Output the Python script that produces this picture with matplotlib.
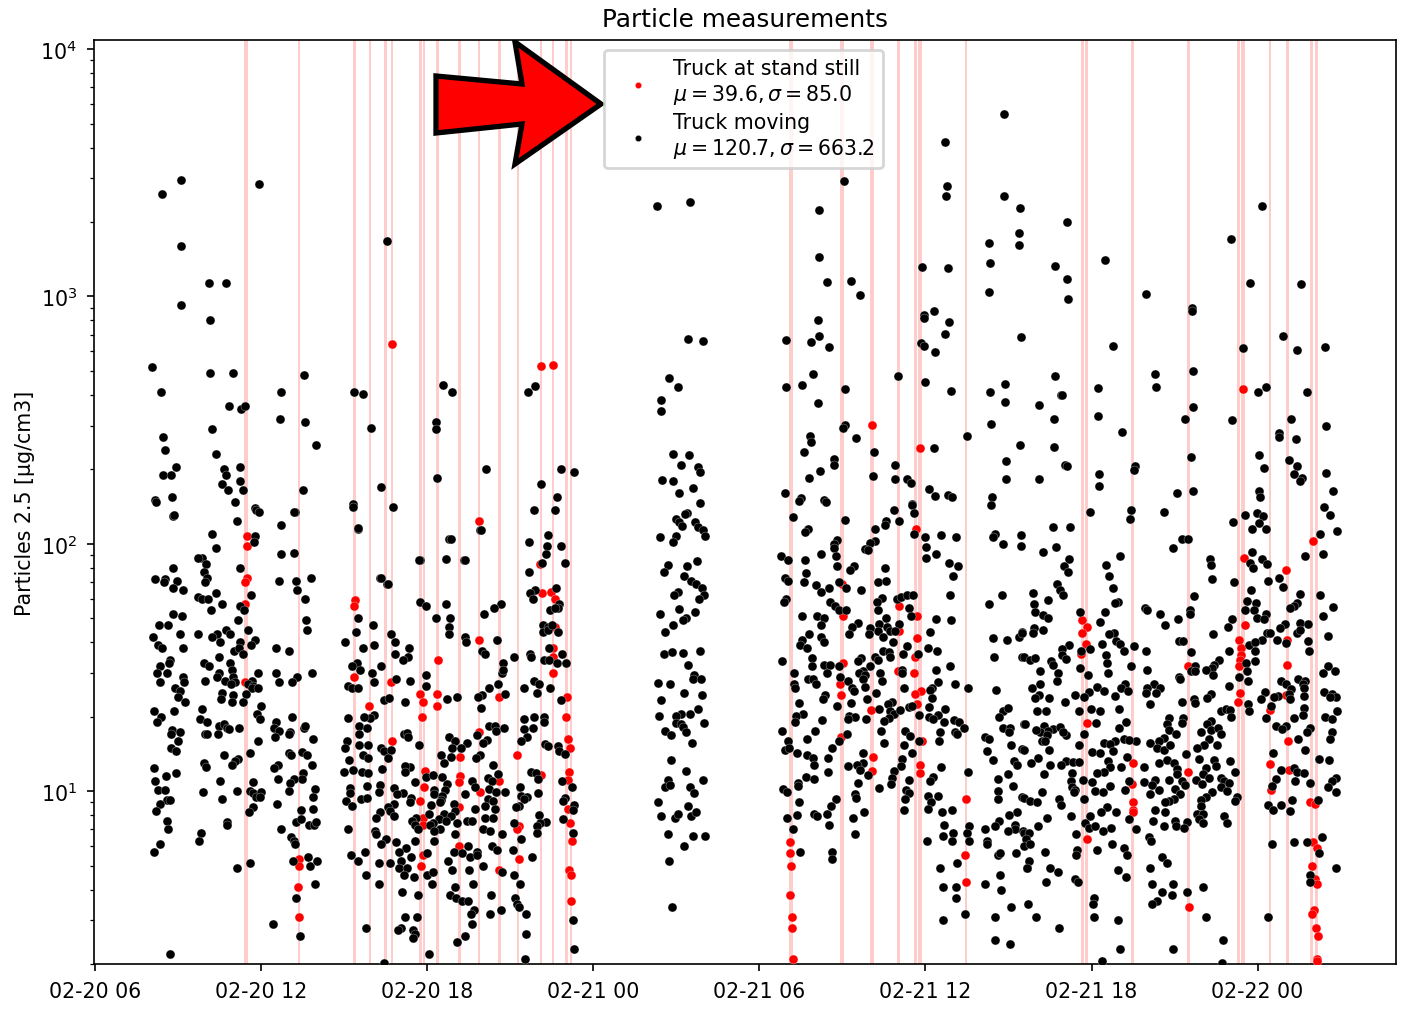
import numpy as np
import datetime as dt
import matplotlib
matplotlib.use('Agg')
import matplotlib.pyplot as plt
import matplotlib.dates as mdates
from matplotlib.patches import Polygon

plt.rcParams['font.size'] = 7.4
plt.rcParams['axes.linewidth'] = 0.6
plt.rcParams['xtick.major.width'] = 0.6
plt.rcParams['ytick.major.width'] = 0.6
plt.rcParams['ytick.minor.width'] = 0.45
plt.rcParams['xtick.major.size'] = 2.6
plt.rcParams['ytick.major.size'] = 2.6
plt.rcParams['ytick.minor.size'] = 1.5

# all readings: (hours after 02-20 06:00, particles)
still_a = [(5.48,108),(5.49,98),(5.5,73),(5.4,70),(5.41,57),(5.41,27.5),(7.36,5.3),(7.36,5),(7.34,4.1),(7.37,3.1)]
still_b = [(13.86,124),(16.09,83),(16.13,63),(16.48,64),(16.61,60),(9.38,59),(9.34,56),(16.6,46),(13.87,41),(16.55,38),
           (16.55,35),(12.38,34),(16.56,30),(9.37,29),(10.7,27.5),(14.59,24),(11.75,24.7),(12.34,24.7),(11.83,23),(12.36,22),
           (17.04,24),(9.91,22),(17.0,20),(11.8,20),(13.86,17.3),(10.72,16),(17.08,16.2),(17.14,15),(13.2,13.7),(15.24,14),
           (11.91,12.1),(17.13,12),(16.12,11.6),(14.61,11),(13.2,11.5),(13.15,10.9),(11.89,10.4),(17.08,11.1),(13.9,9.9),(11.75,9.1),
           (13.16,8.6),(17.07,8.5),(11.85,7.8),(11.85,7.3),(17.16,7.4),(15.3,7.2),(15.26,7),(17.22,6.3),(13.13,6),(11.84,5.5),
           (15.3,5.3),(11.78,5),(14.61,4.8),(17.13,4.8),(17.18,4.6),(17.2,3.6),(16.12,525),(16.55,530),(10.73,640)]
still_c = [(25.1,6.2),(25.09,5.6),(25.15,5),(25.12,3.8),(25.17,3.1),(25.18,2.8),(25.2,2.1),(26.98,68.5),(27.03,51),(27.02,33),
           (26.93,27),(26.96,24.4),(26.96,16.6),(28.03,21.3),(28.1,13.8),(28.06,12.1),(29.67,115),(29.05,56),(29.7,51),(29.03,44.5),
           (29.71,41.5),(29.61,35),(29.0,30.5),(29.59,30),(29.84,25.3),(29.63,24.7),(29.68,22.5),(29.88,16),(29.81,12.7),(29.81,11.8),
           (31.47,9.3),(31.44,5.5),(31.45,4.3),(28.06,301),(29.79,243)]
still_d = [(44.0,103),(41.51,88),(43.03,78),(35.66,49),(41.53,47),(35.84,46),(35.65,43.5),(41.32,41),(43.05,41),(35.79,39.5),
           (41.41,37.8),(41.41,35.5),(35.62,36),(41.38,34),(41.32,32),(43.08,32.5),(39.48,32),(43.03,24.4),(41.35,24.9),(41.29,23),
           (42.43,21.2),(35.83,18.8),(43.09,16),(37.48,13),(42.45,12.9),(43.13,12.2),(39.5,11.9),(37.45,10.7),(42.47,10.1),(43.91,9),
           (44.08,8.9),(37.5,9),(37.5,8.4),(37.5,8.2),(35.82,6.4),(44.01,6.2),(44.13,5.9),(43.97,5),(44.08,4.4),(44.15,4.2),
           (39.51,3.4),(44.04,3.3),(43.95,3.2),(44.1,2.8),(44.17,2.6),(44.14,2.1),(44.14,2.05),(41.48,424)]

moving_a = [(2.06,520),(2.39,410),(2.46,270),(2.53,240),(2.46,190),(2.17,150),(2.78,155),(2.75,190),(2.93,205),(2.82,130),
            (2.42,2600),(3.11,2950),(3.11,1600),(3.11,920),(4.12,1130),(4.73,1130),(4.16,800),(4.16,490),(4.99,490),(4.23,290),
            (4.37,230),(4.66,200),(4.73,190),(4.84,360),(5.28,350),(5.42,360),(5.24,205),(5.24,180),(4.59,175),(5.35,165),
            (4.81,165),(5.93,2850),(6.72,410),(6.69,320),(7.55,480),(7.59,310),(7.52,165),(7.23,135),(7.99,250),(5.78,140),
            (2.2,148),(2.84,131),(5.05,148),(5.8,137),(5.93,134),(5.12,124),(7.19,135),(6.71,119),(4.22,110),(4.36,96),
            (5.78,108),(5.75,102),(6.72,91),(7.17,92),(3.86,88),(3.71,88),(4.0,83),(2.82,80),(5.22,80),(3.92,77),
            (4.06,73),(3.98,70),(2.18,72),(2.52,72),(2.49,70),(2.95,71),(2.8,66),(3.16,65),(6.66,71),(7.25,71),
            (7.8,73),(7.28,65),(4.37,63),(3.73,61),(3.86,60),(4.07,60),(5.63,62),(7.59,60),(4.59,57),(5.24,56),
            (5.39,54),(4.18,54),(2.82,52),(3.14,51),(7.63,49),(5.18,49),(2.3,47),(2.65,47),(5.52,45),(4.73,45),
            (4.88,43),(4.4,43),(7.64,45),(2.08,42),(3.07,43),(3.72,43),(4.22,42),(5.77,41),(4.52,40),(5.24,40),
            (5.65,39),(2.29,39),(2.41,38),(3.17,38),(5.02,37),(5.2,38),(6.52,38),(7.01,37),(5.36,36),(4.49,35),
            (2.69,34),(2.66,33),(4.86,33),(3.92,33),(4.11,32),(2.35,32),(4.93,31),(2.23,30),(2.61,30),(4.48,30),
            (5.9,30),(6.53,30),(7.82,30),(7.29,29),(3.19,29),(4.42,29),(4.98,29),(4.7,28),(3.98,28),(3.22,27.5),
            (2.33,27.5),(5.06,27.5),(4.92,27),(6.65,27.5),(7.11,27.5),(5.66,28),(5.54,27),(5.72,26.5),(5.66,26),(5.9,26),
            (2.89,26),(3.05,25.5),(4.6,25),(5.45,24.7),(2.98,24),(4.98,24.5),(4.54,23.5),(3.23,23),(4.96,23),(5.35,23),
            (2.86,21),(3.86,21.5),(2.11,21),(5.98,22),(5.84,20.5),(7.13,20),(2.37,20),(2.25,19),(3.8,19.5),(4.04,19),
            (5.95,19.5),(6.55,19),(4.46,18.3),(4.64,18.7),(4.76,18),(4.83,17.8),(5.2,18),(7.53,18),(7.57,18.3),(6.45,18),
            (6.63,17.5),(2.77,17.7),(3.05,17.3),(2.75,17),(3.98,17),(4.06,17),(4.45,17),(7.05,17.3),(7.0,17),(6.5,16.5),
            (7.87,16.3),(2.99,16),(5.87,16),(2.75,15),(2.94,14.5),(5.61,14.3),(7.02,14.3),(7.08,14),(7.47,14.4),(7.65,14),
            (4.67,14),(5.16,13.5),(5.04,13.2),(4.95,12.7),(3.95,13),(4.02,12.5),(7.84,12.8),(6.6,12.8),(6.47,12.4),(2.12,12.4),
            (2.93,11.8),(2.57,11.5),(7.5,11.8),(7.47,11.2),(7.19,11.2),(7.05,10.8),(2.16,11),(6.59,11.2),(4.52,11),(5.7,10.9),
            (2.29,10.1),(2.54,10.1),(5.14,10),(7.0,10),(7.96,10.2),(3.89,9.9),(5.6,10),(5.72,9.8),(5.8,9.5),(5.99,9.9),
            (5.96,9.5),(4.57,9.3),(7.89,9.5),(2.61,9.2),(2.71,9.2),(2.33,8.9),(6.57,8.9),(2.19,8.3),(5.72,8.6),(5.55,8.2),
            (7.88,8.5),(7.43,8.4),(2.58,7.6),(4.76,7.5),(4.76,7.3),(7.27,7.5),(7.43,7.7),(7.73,7.3),(7.92,7.3),(7.99,7.5),
            (2.63,7),(6.7,7),(3.83,6.8),(3.76,6.3),(7.06,6.5),(7.19,6.3),(7.24,6.1),(2.34,6.1),(2.14,5.7),(7.14,5.2),
            (7.69,5.4),(7.76,5),(8.02,5.2),(5.58,5.1),(5.11,4.9),(7.93,4.2),(7.25,3.7),(6.42,2.9),(7.4,2.6),(2.71,2.2)]

moving_b = [(9.36,410),(9.69,405),(9.97,295),(9.32,145),(9.5,115),(10.34,170),(10.55,1680),(10.3,73),(10.55,69),(12.58,440),
            (12.9,410),(12.32,310),(12.32,290),(12.36,185),(11.75,86),(12.79,105),(13.34,86),(13.9,114),(14.13,200),(15.65,410),
            (15.9,435),(16.84,200),(17.31,195),(16.12,175),(16.7,155),(9.33,141),(10.75,141),(15.84,137),(16.62,137),(13.94,114),
            (9.5,116),(16.37,109),(12.85,105),(15.68,102),(16.32,98),(16.83,98),(16.3,91),(11.71,86),(12.67,87),(13.36,86),
            (16.16,84),(16.97,84),(15.68,77),(10.32,73),(10.57,69),(15.91,65),(15.72,63),(15.83,60),(16.65,66),(16.77,57),
            (16.72,55),(16.44,54),(16.6,55),(11.73,58),(11.95,56),(12.69,57),(14.67,57),(14.4,55),(14.06,52),(9.48,50),
            (12.33,50),(12.81,50),(12.77,46),(12.8,43),(10.03,47),(9.42,44),(16.2,47),(16.38,46),(16.2,44),(16.38,45),
            (16.5,47),(16.74,44),(10.68,43),(13.36,42),(13.4,40),(14.53,41),(10.83,40),(9.03,40),(9.69,38),(10.08,39),
            (11.33,38),(10.84,36),(11.32,35),(11.14,34),(13.97,37),(14.07,36),(16.4,38),(16.86,36),(15.73,36),(15.75,35),
            (15.13,35),(16.23,34),(16.4,34),(16.68,33),(17.0,33),(14.75,33),(9.45,33),(9.27,32),(9.56,31),(10.34,32),
            (14.69,30),(14.74,31),(9.99,30),(11.97,29.5),(10.86,28.5),(10.07,27.5),(11.36,28),(15.87,28),(16.03,27),(9.15,26.5),
            (9.27,26),(9.48,26),(11.94,26.5),(14.56,27),(14.22,26),(15.48,26),(15.95,25),(16.44,26),(14.8,24.7),(13.97,24.5),
            (13.83,24),(13.09,24),(12.71,23.5),(10.42,23.3),(10.62,23.7),(11.21,23),(16.85,23.3),(13.94,21.7),(10.07,20.3),(9.94,19.7),
            (9.73,20),(9.14,19.7),(15.86,20),(16.22,20),(16.22,19),(15.5,19.5),(9.54,18.3),(9.84,18),(14.24,18.3),(14.45,18.3),
            (14.5,17.5),(14.79,18),(15.81,18),(15.51,17.8),(11.16,17),(11.27,17.2),(11.32,16.5),(9.54,17),(13.81,16.8),(15.6,16.5),
            (15.4,16),(9.09,16),(12.78,16.5),(13.0,16),(13.43,15.7),(14.15,16.1),(14.0,15.7),(9.87,15.3),(9.53,15.3),(9.03,14.9),
            (11.69,15.3),(12.91,15),(16.24,15.5),(16.36,15.2),(16.71,15.2),(10.34,15),(10.43,14.5),(10.68,14.6),(13.22,14.9),(16.77,14.5),
            (16.96,14.1),(9.67,14),(12.51,14),(12.87,13.8),(10.6,13.6),(9.85,13.6),(9.18,13.3),(13.92,14),(13.77,13.6),(12.62,13),
            (14.39,12.8),(11.38,12.5),(11.18,12.6),(10.38,12.3),(9.01,12),(9.33,12.2),(9.63,12),(9.87,11.8),(11.18,11.9),(11.96,11.4),
            (12.21,11.6),(12.55,11.4),(15.74,11.9),(15.93,11.8),(16.0,11.2),(14.54,11.7),(14.19,11.3),(14.33,11),(13.61,11),(11.57,10.9),
            (12.73,10.7),(10.3,10.6),(9.81,10.5),(13.71,10.4),(9.2,10.3),(16.86,11),(17.24,10.4),(10.8,10.3),(12.26,10.1),(12.65,10.1),
            (15.36,10.4),(14.22,10.2),(14.48,9.9),(14.8,9.9),(9.22,9.8),(10.24,9.9),(11.12,9.8),(10.89,9.7),(12.25,9.7),(13.37,9.7),
            (16.0,9.8),(15.4,9.6),(15.62,9.5),(15.5,9.3),(14.21,9.3),(12.53,9.6),(12.5,9.2),(12.47,9),(11.43,9.4),(9.59,9.3),
            (9.84,9.4),(9.07,9.1),(11.39,9),(14.39,9.1),(16.96,9.4),(16.91,9.1),(12.14,8.8),(12.96,8.9),(9.27,8.7),(10.8,8.9),
            (10.6,8.6),(14.09,8.7),(13.73,8.5),(14.45,8.5),(15.3,8.7),(15.2,8.6),(17.31,8.8),(17.25,8.4),(10.28,8.2),(10.66,8.3),
            (10.79,7.9),(13.01,8.3),(12.59,8.1),(12.07,8.1),(16.04,8),(12.87,7.9),(10.14,7.8),(14.09,7.8),(14.36,7.8),(11.6,7.8),
            (11.46,7.6),(11.56,7.3),(12.43,7.7),(12.67,7.6),(13.43,7.6),(13.61,7.6),(12.22,7.4),(12.09,7.3),(13.09,7.4),(16.3,7.5),
            (16.08,7.4),(15.96,7.2),(16.92,7.7),(15.15,7.4),(9.12,7),(11.67,7),(12.47,7),(12.26,6.9),(14.03,7),(14.27,6.9),
            (10.12,6.9),(10.14,6.7),(14.71,6.7),(15.96,6.8),(17.26,6.8),(13.01,6.7),(10.51,6.4),(10.33,6.1),(12.26,6.3),(11.54,6.3),
            (15.37,6.4),(10.87,6.2),(13.47,6),(14.33,6),(14.51,5.8),(11.22,5.9),(10.98,5.7),(9.75,5.7),(9.24,5.5),(9.49,5.2),
            (15.1,5.8),(12.95,5.7),(13.25,5.6),(13.79,5.7),(13.55,5.4),(13.81,5.5),(11.98,5.6),(11.42,5.4),(11.06,5.2),(15.79,5.4),
            (12.75,5.2),(10.27,5.1),(10.66,5.1),(10.98,4.9),(11.28,4.9),(14.02,5),(12.89,4.8),(13.51,4.8),(14.71,4.7),(15.15,4.6),
            (9.78,4.6),(11.16,4.6),(11.51,4.5),(12.0,4.6),(12.22,4.7),(15.36,4.2),(10.25,4.2),(12.16,4.2),(13.66,4.2),(13.02,4.1),
            (11.08,3.9),(11.68,3.8),(12.83,3.8),(13.04,3.7),(13.27,3.6),(13.49,3.6),(14.3,3.8),(15.18,3.7),(15.24,3.5),(15.33,3.4),
            (13.69,3.3),(13.59,3.2),(13.61,2.9),(14.66,3.3),(14.26,3.2),(15.57,3.2),(11.19,3.1),(11.63,3.1),(17.28,3),(9.8,2.8),
            (11.06,2.8),(10.96,2.75),(11.5,2.75),(11.56,2.65),(11.47,2.55),(15.56,2.65),(13.36,2.6),(13.08,2.45),(12.08,2.2),(17.3,2.3),
            (15.54,2.1),(10.43,2.02)]

moving_night = [(20.31,2320),(21.5,2420),(20.46,380),(20.46,345),(20.74,470),(21.07,430),(21.43,670),(21.97,660),(20.87,230),(21.47,229),
                (21.15,209),(21.77,205),(21.84,196),(20.48,181),(20.87,180),(21.11,161),(21.6,168),(21.84,146),(21.39,133),(21.3,132),
                (20.99,126),(21.09,122),(21.19,118),(21.66,123),(21.77,117),(21.95,114),(22.05,108),(20.4,107),(20.97,108),(20.89,102),
                (20.71,82),(20.54,77),(21.39,81),(21.75,85),(21.29,74),(21.53,71),(21.72,69),(21.92,66),(21.05,64),(20.93,62),
                (21.99,62),(21.83,60),(21.09,54.5),(20.4,52),(21.69,53),(21.36,50),(21.24,49),(20.88,47),(20.58,44),(20.54,36),
                (20.84,36.6),(21.23,36.3),(21.86,36.8),(21.43,32.4),(21.63,29.4),(21.6,28.4),(21.89,28.4),(20.34,27.4),(20.78,27),(21.29,25),
                (21.92,24.4),(20.43,23.3),(21.77,21.4),(21.48,20.6),(21.15,20.6),(21.0,20.2),(20.36,20.1),(20.97,18.8),(21.15,18.7),(21.23,18.1),
                (21.36,17.4),(22.01,18.8),(20.58,17.5),(20.81,16.8),(21.57,15.7),(20.8,13.3),(21.36,12.1),(20.7,11.1),(21.95,11.1),(20.6,10.4),
                (20.78,10.6),(21.51,10.4),(21.65,9.8),(20.33,9),(21.42,8.7),(20.45,7.9),(20.94,7.8),(21.05,8.1),(21.54,7.9),(21.71,8.2),
                (20.68,6.7),(21.59,6.6),(22.03,6.6),(21.27,6),(20.75,5.2),(20.83,3.4)]

moving_c = [(32.85,5470),(30.72,4200),(27.06,2920),(26.17,2230),(30.79,2800),(30.75,2540),(32.85,2550),(33.41,2270),(33.38,1800),(32.3,1650),
            (33.39,1620),(26.14,1440),(32.32,1370),(29.88,1320),(30.8,1306),(34.69,1330),(26.43,1146),(27.3,1150),(27.65,1018),(32.29,1045),
            (30.32,875),(29.93,843),(29.96,818),(30.84,787),(26.1,805),(26.16,693),(24.96,668),(25.86,652),(26.52,622),(30.71,706),
            (29.85,646),(29.94,628),(30.34,597),(33.45,687),(25.93,485),(28.99,478),(34.67,475),(29.98,452),(32.86,441),(24.96,432),
            (25.55,440),(27.08,424),(30.93,416),(32.34,411),(34.88,401),(26.12,372),(32.88,374),(34.1,365),(34.64,321),(32.37,306),
            (27.1,302),(27.03,294),(25.84,273),(25.88,259),(27.5,267),(31.5,272),(33.41,252),(34.65,247),(30.3,243),(25.61,235),
            (28.15,235),(26.71,220),(26.7,209),(32.9,217),(28.91,208),(35.03,208),(26.2,197),(25.81,184),(28.12,188),(28.91,183),
            (29.33,183),(29.46,176),(32.92,183),(34.11,183),(30.12,166),(30.35,156),(30.8,158),(30.96,154),(32.4,154),(24.92,160),
            (25.51,153),(25.44,149),(26.34,151),(26.4,147),(29.53,145),
            (32.38,143),(29.52,143),(29.58,133),(28.87,137),(25.2,128),(27.11,125),(29.06,124),(28.59,124),(28.55,119),(28.18,115),
            (25.77,115),(25.65,112),(29.57,110),(29.99,107),(30.03,97),(30.56,109),(31.09,107),(32.52,110),(32.45,107),(33.44,109),
            (32.81,100),(33.46,98),(26.82,104),(26.68,100),(26.71,96),(28.18,103),(28.0,101),(27.82,95),(27.94,94),(26.22,91),
            (26.75,89),(24.79,89),(25.05,86),(25.63,86),(30.02,88),(30.38,91),(30.86,84),(31.16,81),(26.79,81),(27.4,81),
            (27.28,78),(28.53,80),(25.67,76),(31.0,74),(24.93,73),(25.03,71),(25.62,70),(26.86,70),(27.12,66.5),(28.27,70),
            (28.57,71),(26.04,68),(26.22,64),(26.53,66.5),(27.68,65),(30.87,62),(32.76,62),(24.96,60),(24.88,58),(32.29,57),
            (26.56,58),(26.74,56),(26.88,54),(27.14,54),(28.43,60.5),(28.26,58),(28.3,54),(28.97,60),(29.12,61),(29.33,62),
            (29.55,62),(29.39,55),(25.53,51),(26.08,51),(26.32,50),(26.23,47),(29.49,51),(30.39,49.5),(30.92,49),(27.55,48),
            (27.34,46),(27.22,43),(28.58,50),(28.33,47.5),(28.27,44.5),(28.0,45.5),(27.97,43),(28.6,46),(28.73,44.5),(29.05,47.5),
            (28.91,44.5),(28.46,42),(30.15,44),(33.49,44),(33.37,42),(32.94,41),(32.43,41.5),(25.79,43),(25.53,41),(25.47,39),
            (25.71,38),(26.23,42),(26.35,40),(28.81,40),(29.34,38.5),(29.2,36),(28.45,37),(28.67,36.5),(28.73,35),(28.18,35),
            (28.3,34),(30.1,38),(30.41,37),(29.74,36),(32.46,35),(33.49,35),(24.81,33.5),(25.9,34.5),(25.9,32),(26.35,32.5),
            (26.56,32.5),(26.86,32),(27.68,34.5),(27.56,33.5),(28.0,32),(30.9,32),(30.39,31),(29.15,31),(29.15,30),(27.76,30.5),
            (27.6,30),(27.82,29.5),(27.73,28.5),(25.26,30),(26.44,30),(28.37,30),(28.43,28),(26.92,29),(25.77,28.5),(25.93,28.5),
            (25.26,27),(25.29,26),(26.04,27),(27.2,28),(30.47,27.5),(30.23,26),(30.15,25.6),(31.05,27),(31.52,26),(32.56,25.6),
            (29.23,26),(27.34,26),(27.43,25.4),(27.82,26.3),(28.22,25),(26.38,24.4),(26.28,23.5),(25.44,22.8),(27.9,23.5),(27.32,22.8),
            (26.8,22),(30.23,23.7),(28.79,23),(28.64,22.6),(28.73,21),(28.85,20.5),(28.67,19.7),(28.33,21.4),(29.09,21.3),(29.39,21.8),
            (29.53,22),(30.14,21.8),(29.77,20.3),(32.79,21),(32.98,21.7),(32.67,20),(25.59,20.6),(25.33,20.2),(25.29,19),(30.69,21.4),
            (30.47,20.4),(30.14,20),(30.29,19.5),(30.68,19),(27.24,20.2),(27.46,20),(27.2,19.5),(27.86,19.5),(26.27,19.4),(28.49,19.2),
            (31.02,19.4),(31.2,19),(31.4,18),(33.55,18.6),(32.79,18),(33.06,18),(33.0,17.4),(24.81,17.5),(26.02,17.5),(28.39,17.5),
            (29.27,17.5),(30.51,17.3),(31.05,17.3),(31.15,17),(29.43,16.7),(27.15,17),(32.16,16.6),(32.28,16.3),(25.71,16.2),(25.04,16),
            (26.88,16),(28.51,15.7),(30.5,16),(29.75,16),(29.23,15.4),(33.1,15.3),(26.64,15),(24.91,14.7),(25.08,14.9),(32.24,14.5),
            (33.49,14.8),(25.37,14.2),(25.73,14),(25.94,13.6),(25.99,12.7),(26.47,13.6),(27.75,14.2),(29.51,14.2),(32.45,13.4),(33.2,13.2),
            (33.31,12.7),(29.17,13.5),(29.1,12.6),(27.73,13),(27.52,12.7),(27.64,12.2),(27.2,12.6),(30.57,12.5),(26.47,12),(31.55,12),
            (28.85,12.1),(27.93,11.6),(28.79,11.3),(25.69,11.4),(25.97,11.2),(30.28,11.4),(30.17,11),(32.97,11.7),(32.63,11.2),(29.41,11.1),
            (27.57,10.8),(25.41,10.8),(25.38,10.5),(28.76,10.7),(33.18,10.5),(28.32,10.3),(24.85,10.2),(24.98,9.9),(29.29,10.1),(29.41,9.8),
            (32.62,10),(27.46,9.7),(27.49,9.4),(30.09,9.6),(30.45,9.6),(29.27,9.3),(26.76,9.3),(32.61,9.3),(33.49,9.5),(30.2,9),
            (25.44,9),(26.59,8.7),(30.1,8.5),(29.24,8.4),(30.97,8.4),(30.59,8.2),(27.79,8.2),(33.32,8.2),(33.03,8),(25.37,8),
            (25.98,8.1),(26.08,7.9),(26.46,8.1),(25.0,7.8),(27.39,7.8),(32.65,7.6),(26.5,7.3),(30.68,7.3),(31.56,7.2),(32.51,7.2),
            (32.16,7),(33.22,7.3),(33.24,7),(32.98,6.9),(33.53,6.9),(25.22,7),(27.47,6.7),(30.99,6.8),(31.5,6.8),(30.65,6.6),
            (30.95,6.3),(31.56,6.3),(30.05,6.3),(32.23,6.3),(32.22,6.1),(25.47,5.7),(26.62,5.7),(26.62,5.3),(31.15,5.1),(30.53,4.9),
            (32.61,5.5),(32.68,5.6),(33.27,5.6),(33.67,4.9),(32.7,4.6),(32.15,4.2),(30.64,4.1),(31.11,4.1),(31.09,3.7),(32.73,4),
            (33.09,3.4),(31.43,3.2),(32.5,3.1),(30.62,3),(32.52,2.5),(33.04,2.4)]

moving_d = [(42.17,2317),(35.12,2005),(41.05,1710),(36.48,1403),(35.12,1180),(35.15,973),(41.71,1136),(43.57,1122),(37.97,1026),(39.64,897),
            (39.62,875),(42.91,695),(36.79,632),(41.46,621),(43.41,605),(44.44,622),(38.3,485),(39.67,499),(36.23,428),(38.34,432),
            (34.92,401),(42.01,411),(42.3,432),(43.79,412),(39.67,358),(36.24,328),(39.39,321),(41.07,318),(43.21,321),(37.09,284),
            (44.47,299),(42.77,281),(42.79,270),(43.39,265),(39.59,225),(42.04,229),(35.11,206),(43.15,219),(43.42,207),(42.22,202),
            (37.57,207),(37.54,199),(36.27,192),(43.3,192),(43.59,185),(43.54,180),(44.48,194),(36.28,172),(39.1,160),(39.68,164),
            (42.05,163),(42.1,155),(44.73,163),
            (35.96,135),(37.41,137),(37.38,126),(38.63,135),(44.39,141),(44.63,131),(34.62,117),(35.21,117),(41.12,122),(41.55,131),
            (41.98,133),(42.2,129),(42.06,121),(41.8,115),(42.32,115),(44.86,113),(44.24,110),(39.27,105),(39.48,105),(34.72,97),
            (34.25,93),(38.95,96),(37.04,89),(35.2,87),(35.02,81),(35.15,77),(41.78,93),(42.16,87),(43.73,89),(44.37,91),
            (42.35,83),(41.74,84),(41.83,80),(36.53,82),(40.29,87),(40.31,82),(36.63,74),(36.77,66),(40.35,72),(42.36,71),
            (42.76,73),(41.14,70),(42.92,67),(34.74,69),(34.85,65),(34.98,62),(41.76,65),(33.88,63),(43.53,62.5),(44.26,62),
            (39.7,61.5),(36.95,58),(36.84,57.5),(34.41,59),(33.91,57),(33.97,53),(41.62,58.5),(41.94,57.5),(43.42,57.5),(43.31,56),
            (43.16,55),(44.73,55.5),(37.94,55),(38.0,54),(36.5,53),(35.6,53),(39.54,54),(39.57,52),(38.48,52),(41.56,54),
            (41.86,54),(42.29,52),(41.96,50),(42.22,49.5),(34.25,51.5),(34.43,50),(44.35,51),(36.3,48.5),(39.13,49.5),(41.09,49.5),
            (40.92,46),(38.65,47),(43.53,48),(43.82,47.5),(42.98,47.5),(42.82,45.5),(43.43,43.5),(43.53,45),(33.92,45.5),(33.89,43.5),
            (34.26,45),(33.49,43.5),(36.82,43.5),(36.62,43),(40.38,43),(42.35,43.5),(42.44,43.5),(44.54,42.5),(42.7,41),(42.16,41),
            (39.15,40.5),(39.3,40.5),(36.9,40.5),(37.02,39.5),(37.17,37),(36.38,39.5),(37.53,38.5),(43.83,40.5),(43.01,39.7),(41.68,39),
            (41.92,40),(35.18,39),(34.94,37.5),(35.95,37.5),(35.62,37),(43.86,37),(37.98,37),(39.61,36.5),(40.96,36.8),(41.91,36.8),
            (34.94,35.5),(35.06,34.2),(36.54,35.5),(36.56,33),(33.55,35),(33.77,34),(33.96,34.5),(34.53,33.5),(34.6,32.5),(41.89,33.7),
            (40.6,34),(40.42,32.5),(40.37,31.5),(41.59,33),(37.43,32),(39.75,32),(39.58,30.5),(39.75,30.5),(44.54,32),(35.59,31.5),
            (38.02,31),(34.15,30.5),(36.6,30),(40.13,31),(40.39,29.5),(35.88,29.5),(34.78,30),(34.75,28),(39.15,29),(39.19,28.5),
            (41.33,29),(41.62,30.5),(44.78,30.5),(44.36,30),(43.47,28.5),(42.86,28),(43.01,27),(41.65,28),(43.73,28),(38.25,27),
            (37.2,27),(37.08,26),(34.15,27),(33.85,26),(43.65,27),(43.67,26),(36.21,26.3),(36.44,25.4),(37.31,25.3),(40.98,26.7),
            (38.0,26),(37.95,25),(38.49,26),(38.33,25),(35.91,25.2),(35.42,24.5),(36.84,24.3),(35.72,24),(42.27,25.2),(43.2,25.8),
            (43.13,24.7),(42.73,24.3),(42.59,24),(40.32,24.6),(40.18,23.8),(44.39,25.2),(44.7,24.6),(44.82,24),(44.63,24),(43.66,24.3),
            (43.16,23.5),(34.45,23.8),(34.09,24.5),(33.97,23.7),(35.04,23),(39.27,23),(39.72,23.5),(39.74,22.7),(42.13,23.5),(38.12,22.5),
            (41.67,22.5),(40.66,21),(40.84,21.5),(41.0,21.2),(41.69,21),(42.48,22),(43.68,21.7),(43.65,20.3),(44.88,21),(35.97,21.5),
            (36.31,21),(36.98,21.4),(34.03,21),(34.37,21),(35.53,21),(41.03,20),(42.29,19.7),(43.33,19.8),(44.45,20),(44.7,19.6),
            (39.3,19.7),(39.26,18.9),(38.79,19.8),(38.73,18.7),(36.16,18.9),(40.33,19.2),(40.18,18.6),(40.3,17.7),(33.61,18.6),(37.24,19),
            (37.01,18),(34.27,18.3),(34.61,17.8),(34.42,17.5),(34.15,17.3),(34.85,18.2),(33.98,17.7),(38.79,17.7),(42.65,18.3),(43.01,18.4),
            (42.89,17.8),(43.91,18),(43.77,17.3),(44.7,17.3),(44.63,16.3),(40.56,18),(40.66,17),(39.97,17.3),(35.74,17),(35.09,16.9),
            (34.97,17.3),(34.39,16.9),(34.21,16),(34.33,16),(43.47,16.2),(39.06,17),(37.17,16.3),(36.86,16),(37.59,15.9),(37.35,16.1),
            (36.44,15.6),(36.68,15.5),(38.61,16.4),(38.43,15.9),(38.1,15.6),(40.24,16.2),(40.06,15.3),(39.82,15),(35.56,15.3),(33.55,14.7),
            (34.45,14.7),(43.7,14.7),(38.35,15),(38.61,14.7),(38.85,15.3),(40.54,15.3),(36.77,14.5),(36.02,14.4),(36.32,14.3),(39.42,14.1),
            (42.56,14.2),(34.07,13.6),(33.82,13),(37.29,13.8),(44.2,13.5),(44.57,13.3),(35.07,13.2),(34.9,12.7),(35.33,13.1),(35.54,13.1),
            (36.59,13.2),(36.68,12.5),(36.44,12),(36.2,11.8),(34.49,12.7),(37.08,12.5),(38.43,13),(37.9,12.5),(38.73,13.4),(38.99,13),
            (39.07,12.3),(39.09,11.7),(39.9,13.5),(40.44,13.4),(40.48,12.6),(41.0,13.2),(42.83,12.2),(43.31,12.4),(43.43,12),(43.66,11.8),
            (40.12,12.4),(40.03,11.7),(40.24,11.3),(41.2,12),(35.31,11.8),(35.24,11),(35.3,10.4),(35.39,10.1),(35.36,9.9),(34.27,11.7),
            (35.7,11.1),(36.03,10.9),(37.35,11),(37.91,10.9),(38.29,11.1),(38.79,11.1),(39.27,11),(39.36,10.6),(39.79,11.1),(39.99,10.7),
            (40.66,11.3),(40.78,11),(40.66,10.4),(40.96,10.8),(40.9,10),(42.68,11.2),(43.36,11),(43.88,10.8),(44.85,11.3),(44.7,11),
            (44.54,10.4),(36.66,10.5),(38.19,10.6),(38.43,10.1),(39.01,10.2),(36.14,10),(36.41,9.9),(37.21,10.1),(42.53,10.5),(34.21,9.9),
            (44.82,9.9),(38.13,9.7),(39.21,9.7),(38.97,9.3),(38.79,9.1),(38.67,9),(40.36,9.9),(40.12,9.5),(39.96,9.2),(41.26,9.5),
            (41.2,9.1),(33.55,9.4),(33.79,9.1),(34.03,9),(34.84,9.3),(34.89,8.8),(35.72,9.3),(43.25,9.2),(44.19,9.2),(42.37,8.8),
            (42.86,8.8),(42.55,8.4),(43.18,8.3),(39.94,8.7),(36.57,8.6),(36.33,8.2),(36.9,8.2),(38.31,8.4),(38.67,8.2),(39.82,8.1),
            (40.03,8.1),(35.26,7.9),(34.39,7.8),(40.8,7.9),(35.94,7.9),(35.78,7.4),(35.9,7.1),(36.14,7.2),(37.37,7.7),(38.23,7.6),
            (39.01,7.6),(39.06,7.2),(39.44,7.5),(39.35,7.1),(39.88,7.7),(40.03,7.4),(40.9,7.4),(38.61,7.2),(36.7,7.1),(36.41,6.9),
            (34.08,7.2),(37.61,7),(33.55,6.8),(33.73,6.8),(33.65,6.4),(35.44,6.7),(38.07,6.5),(38.15,6.3),(33.55,6),(33.79,6.1),
            (36.74,6.1),(42.51,6.1),(43.31,6.2),(43.77,6.2),(44.33,6.5),(44.23,5.6),(34.33,5.7),(36.18,5.8),(35.48,5.8),(35.43,5.5),
            (37.19,5.9),(37.29,5.5),(38.55,5.4),(38.71,5.1),(33.73,5.2),(33.67,4.9),(38.13,4.9),(44.82,4.9),(34.51,4.9),(34.8,4.7),
            (36.94,4.8),(37.23,4.5),(43.91,4.6),(43.91,4.3),(35.39,4.4),(35.5,4.3),(34.36,4.3),(38.19,4.2),(38.94,4.2),(40.01,4.1),
            (39.45,3.9),(38.55,3.9),(38.37,3.6),(38.2,3.5),(38.92,3.8),(36.1,3.7),(36.06,3.5),(33.71,3.5),(34.01,3.1),(36.08,3.1),
            (36.95,3),(40.14,3.1),(42.39,3.1),(34.84,2.8),(40.74,2.5),(37.02,2.3),(38.96,2.3),(36.36,2.05),(40.72,2.02)]

# stand still periods: start hour and length
still_start = [5.38,7.32,9.32,9.88,10.45,10.68,11.71,11.83,12.33,13.12,13.83,14.57,15.23,16.06,16.51,16.99,17.16,
               25.07,26.92,28.0,28.98,29.58,29.74,29.81,31.42,35.62,35.78,37.43,39.46,41.27,41.41,42.41,43.01,43.91,44.09]
still_len = [0.13,0.09,0.09,0.09,0.08,0.08,0.09,0.09,0.08,0.09,0.08,0.08,0.08,0.08,0.08,0.08,0.08,
             0.14,0.13,0.13,0.09,0.10,0.07,0.08,0.09,0.09,0.09,0.09,0.08,0.10,0.14,0.09,0.13,0.09,0.09]

start = dt.datetime(2020, 2, 20, 6)


def to_dates(hours):
    return [mdates.date2num(start + dt.timedelta(hours=float(h))) for h in hours]


still = np.array(still_a + still_b + still_c + still_d)
moving = np.array(moving_a + moving_b + moving_night + moving_c + moving_d)

fig = plt.figure(figsize=(7.06, 5.1), dpi=200)
ax = fig.add_axes([94 / 1412, 55 / 1020, 1302 / 1412, 924 / 1020])

for s, l in zip(still_start, still_len):
    ax.axvspan(to_dates([s])[0], to_dates([s + l])[0], color='red', alpha=0.2, lw=0)

ax.scatter(to_dates(still[:, 0]), still[:, 1], s=10.5, c='red', edgecolors='white', linewidths=0.1,
           label='Truck at stand still\n$\\mu = 39.6, \\sigma = 85.0$', zorder=3)
ax.scatter(to_dates(moving[:, 0]), moving[:, 1], s=10.5, c='black', edgecolors='white', linewidths=0.1,
           label='Truck moving\n$\\mu = 120.7, \\sigma = 663.2$', zorder=4)

ax.set_yscale('log')
ax.set_ylim(2.0, 10890)
ax.set_xlim(to_dates([-0.04])[0], to_dates([47.0])[0])
ax.xaxis.set_major_locator(mdates.HourLocator(byhour=[0, 6, 12, 18]))
ax.xaxis.set_major_formatter(mdates.DateFormatter('%m-%d %H'))
ax.set_ylabel('Particles 2.5 [µg/cm3]', labelpad=2)
ax.set_title('Particle measurements', fontsize=8.9, pad=5)

ax.legend(loc='upper left', bbox_to_anchor=((604 - 94) / 1302, (965 - 51) / 924), borderaxespad=0,
          markerscale=0.7, handlelength=2.5, handletextpad=0.45, labelspacing=0.3, framealpha=0.8)

# the big arrow pointing at the legend
arrow_x = [436, 522, 515, 601, 515, 522, 436]
arrow_y = [77, 85, 43, 105, 165, 125, 134]
arrow_xy = [((x - 94) / 1302, (965 - y) / 924) for x, y in zip(arrow_x, arrow_y)]
ax.add_patch(Polygon(arrow_xy, closed=True, facecolor='red', edgecolor='black', lw=1.9,
                     transform=ax.transAxes, zorder=5, joinstyle='miter'))

plt.savefig('out.png', dpi=200)
